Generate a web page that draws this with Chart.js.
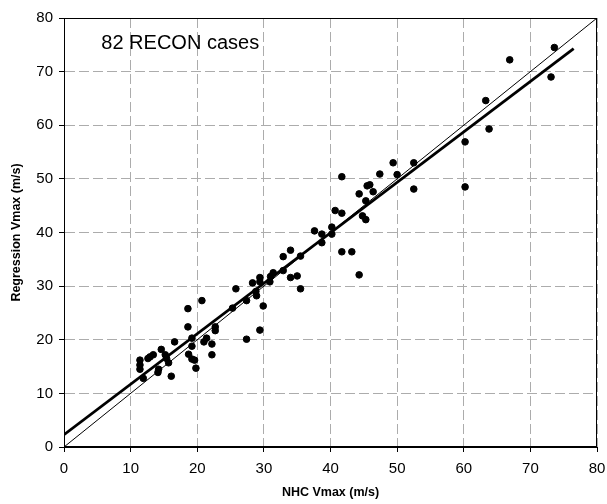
<!DOCTYPE html>
<html>
<head>
<meta charset="utf-8">
<script src="https://cdn.jsdelivr.net/npm/chart.js@4.4.1/dist/chart.umd.min.js"></script>
<style>
  html, body { margin: 0; padding: 0; background: #fff; }
  #wrap { width: 607px; height: 504px; }
</style>
</head>
<body>
<div id="wrap"><canvas id="scatterChart" width="607" height="504"></canvas></div>
<script>
// NHC best-track Vmax vs regression Vmax, 82 RECON cases
const nhcVmax = [
    11.4, 11.4, 11.4, 11.9, 12.6, 12.9, 13.4, 14.1, 14.2, 14.6,
    15.2, 15.4, 15.7, 16.1, 16.6, 18.6, 18.6, 18.7, 19.2, 19.2,
    19.2, 19.6, 19.8, 20.7, 21.0, 21.4, 22.2, 22.2, 22.7, 22.7,
    25.3, 25.8, 27.4, 27.4, 28.3, 28.8, 28.9, 29.4, 29.4, 29.4,
    29.9, 31.0, 31.4, 30.9, 32.9, 32.9, 34.0, 34.0, 35.0, 35.5,
    35.5, 37.6, 38.7, 38.7, 40.2, 40.2, 40.7, 41.7, 41.7, 41.7,
    43.2, 44.3, 44.3, 44.8, 45.3, 45.3, 45.5, 45.9, 46.4, 47.4,
    49.4, 50.0, 52.5, 52.5, 60.2, 60.2, 63.3, 63.8, 66.9, 73.1,
    73.6
];
const regVmax = [
    16.2, 15.3, 14.5, 12.8, 16.5, 16.8, 17.2, 13.9, 14.5, 18.2,
    17.2, 16.5, 15.7, 13.2, 19.6, 25.8, 22.4, 17.3, 20.3, 18.8,
    16.4, 16.2, 14.7, 27.3, 19.6, 20.3, 19.2, 17.2, 22.4, 21.7,
    25.9, 29.5, 27.3, 20.1, 30.6, 29.0, 28.2, 31.6, 30.8, 21.8,
    26.3, 31.8, 32.5, 30.8, 35.5, 32.9, 36.7, 31.6, 31.9, 35.6,
    29.5, 40.3, 39.7, 38.1, 41.0, 39.7, 44.1, 43.6, 50.4, 36.4,
    36.4, 32.1, 47.2, 43.1, 42.4, 45.9, 48.7, 48.9, 47.6, 50.9,
    53.0, 50.8, 53.0, 48.1, 56.9, 48.5, 64.6, 59.3, 72.2, 69.0,
    74.5
];

// 1:1 line and least-squares fit line
const oneToOneX = [0, 80];
const oneToOneY = [0, 80];
const fitX = [0, 76.5];
const fitY = [2.3, 74.3];

const axisTicks = [0, 10, 20, 30, 40, 50, 60, 70, 80];

const toPoints = (xs, ys) => xs.map((x, i) => ({ x: x, y: ys[i] }));

const frameAndLabel = {
    id: 'frameAndLabel',
    afterDraw(chart) {
        const { ctx, chartArea, scales } = chart;
        ctx.save();
        ctx.strokeStyle = '#000';
        ctx.lineWidth = 1;
        ctx.strokeRect(chartArea.left + 0.5, chartArea.top + 0.5,
            chartArea.right - chartArea.left - 1, chartArea.bottom - chartArea.top - 1);
        ctx.fillStyle = '#000';
        ctx.font = '20px "Liberation Sans", Arial, sans-serif';
        ctx.textBaseline = 'middle';
        ctx.fillText('82 RECON cases', scales.x.getPixelForValue(5.6), scales.y.getPixelForValue(75.3));
        ctx.restore();
    }
};

const ctx = document.getElementById('scatterChart').getContext('2d');

new Chart(ctx, {
    type: 'scatter',
    data: {
        datasets: [
            {
                label: 'cases',
                data: toPoints(nhcVmax, regVmax),
                backgroundColor: '#000',
                borderColor: '#000',
                pointRadius: 3.3,
                pointHoverRadius: 3.3
            },
            {
                type: 'line',
                label: '1:1',
                data: toPoints(oneToOneX, oneToOneY),
                borderColor: '#000',
                borderWidth: 1,
                pointRadius: 0,
                fill: false
            },
            {
                type: 'line',
                label: 'fit',
                data: toPoints(fitX, fitY),
                borderColor: '#000',
                borderWidth: 2.8,
                pointRadius: 0,
                fill: false
            }
        ]
    },
    options: {
        responsive: false,
        animation: false,
        layout: { padding: { top: 18, right: 10, left: 0, bottom: 0 } },
        plugins: {
            legend: { display: false },
            tooltip: { enabled: false }
        },
        scales: {
            x: {
                type: 'linear',
                min: 0,
                max: 80,
                afterBuildTicks: s => { s.ticks = axisTicks.map(v => ({ value: v })); },
                afterFit: s => { s.height = 57; s.paddingLeft = 0; s.paddingRight = 0; },
                ticks: {
                    color: '#000',
                    padding: 8,
                    maxRotation: 0,
                    font: { family: '"Liberation Sans", Arial, sans-serif', size: 15 }
                },
                grid: { color: '#acacac', tickColor: '#000', tickLength: 5, tickBorderDash: [] },
                border: { color: '#000', width: 1, dash: [10, 4] },
                title: {
                    display: true,
                    text: 'NHC Vmax (m/s)',
                    color: '#000',
                    padding: { top: 0, bottom: 4 },
                    font: { family: '"Liberation Sans", Arial, sans-serif', size: 12.5, weight: 'bold' }
                }
            },
            y: {
                type: 'linear',
                min: 0,
                max: 80,
                afterBuildTicks: s => { s.ticks = axisTicks.map(v => ({ value: v })); },
                afterFit: s => { s.width = 64; s.paddingTop = 0; s.paddingBottom = 0; },
                ticks: {
                    color: '#000',
                    padding: 6,
                    font: { family: '"Liberation Sans", Arial, sans-serif', size: 15 }
                },
                grid: { color: '#acacac', tickColor: '#000', tickLength: 5, tickBorderDash: [] },
                border: { color: '#000', width: 1, dash: [10, 4] },
                title: {
                    display: true,
                    text: 'Regression Vmax (m/s)',
                    color: '#000',
                    padding: { top: 9, bottom: 0 },
                    font: { family: '"Liberation Sans", Arial, sans-serif', size: 12.5, weight: 'bold' }
                }
            }
        }
    },
    plugins: [frameAndLabel]
});
</script>
</body>
</html>
